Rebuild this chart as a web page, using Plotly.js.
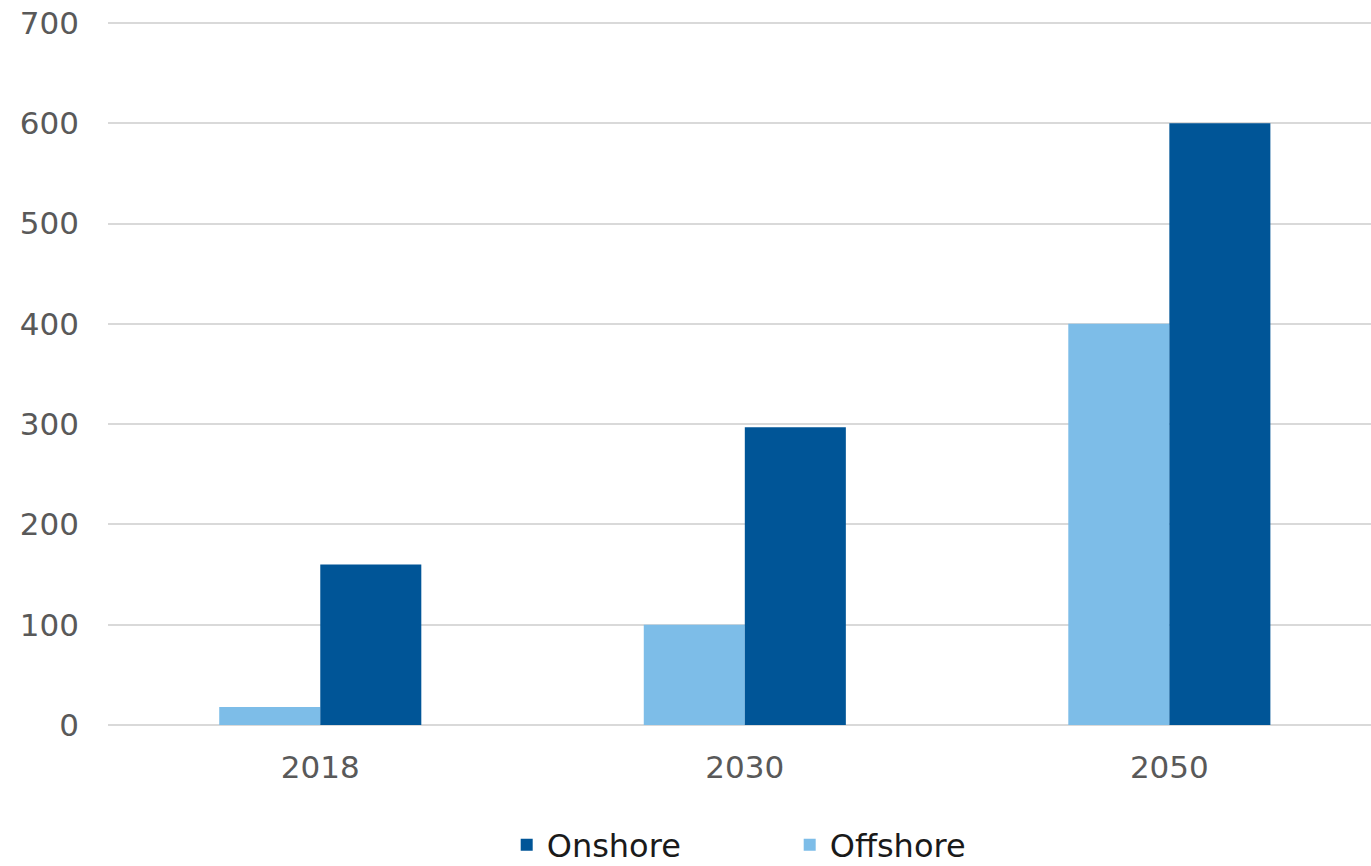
<!DOCTYPE html>
<html>
<head>
<meta charset="utf-8">
<script src="https://cdn.plot.ly/plotly-3.0.1.min.js"></script>
<style>html,body{margin:0;padding:0;background:#fff;}#chart{width:1371px;height:866px;}</style>
</head>
<body>
<div id="chart"></div>
<script>
var categories = ["2018", "2030", "2050"];
var offshore = [18, 100, 400];
var onshore = [160, 297, 600];
var yTicks = [0, 100, 200, 300, 400, 500, 600, 700];

var data = [
  {type: "bar", name: "Offshore", x: categories, y: offshore, marker: {color: "#7dbde8"}},
  {type: "bar", name: "Onshore", x: categories, y: onshore, marker: {color: "#005597"}}
];

var layout = {
  width: 1371, height: 866,
  margin: {l: 108, r: 0, t: 20, b: 141},
  paper_bgcolor: "#fff", plot_bgcolor: "#fff",
  font: {family: "DejaVu Sans, sans-serif", color: "#595959", size: 31},
  barmode: "group",
  bargap: 0.524,
  bargroupgap: 0,
  showlegend: true,
  legend: {
    orientation: "h", xref: "container", yref: "container",
    x: 0.576, xanchor: "center", y: 0.056, yanchor: "top",
    traceorder: "reversed", font: {size: 32, color: "#1a1a1a"},
    entrywidth: 238, entrywidthmode: "pixels", itemwidth: 30
  },
  xaxis: {
    type: "category", range: [-0.5, 2.475],
    showgrid: false, showline: false, zeroline: false, ticks: "",
    ticklabelstandoff: 21,
    tickfont: {size: 31, color: "#595959"}
  },
  yaxis: {
    range: [0, 703], tickvals: yTicks,
    showgrid: true, gridcolor: "#d9d9d9", gridwidth: 2,
    zeroline: true, zerolinecolor: "#d9d9d9", zerolinewidth: 2,
    showline: false, ticks: "",
    ticklabelstandoff: 28,
    tickfont: {size: 31, color: "#595959"}
  }
};

Plotly.newPlot("chart", data, layout, {displayModeBar: false, staticPlot: true});
</script>
</body>
</html>
